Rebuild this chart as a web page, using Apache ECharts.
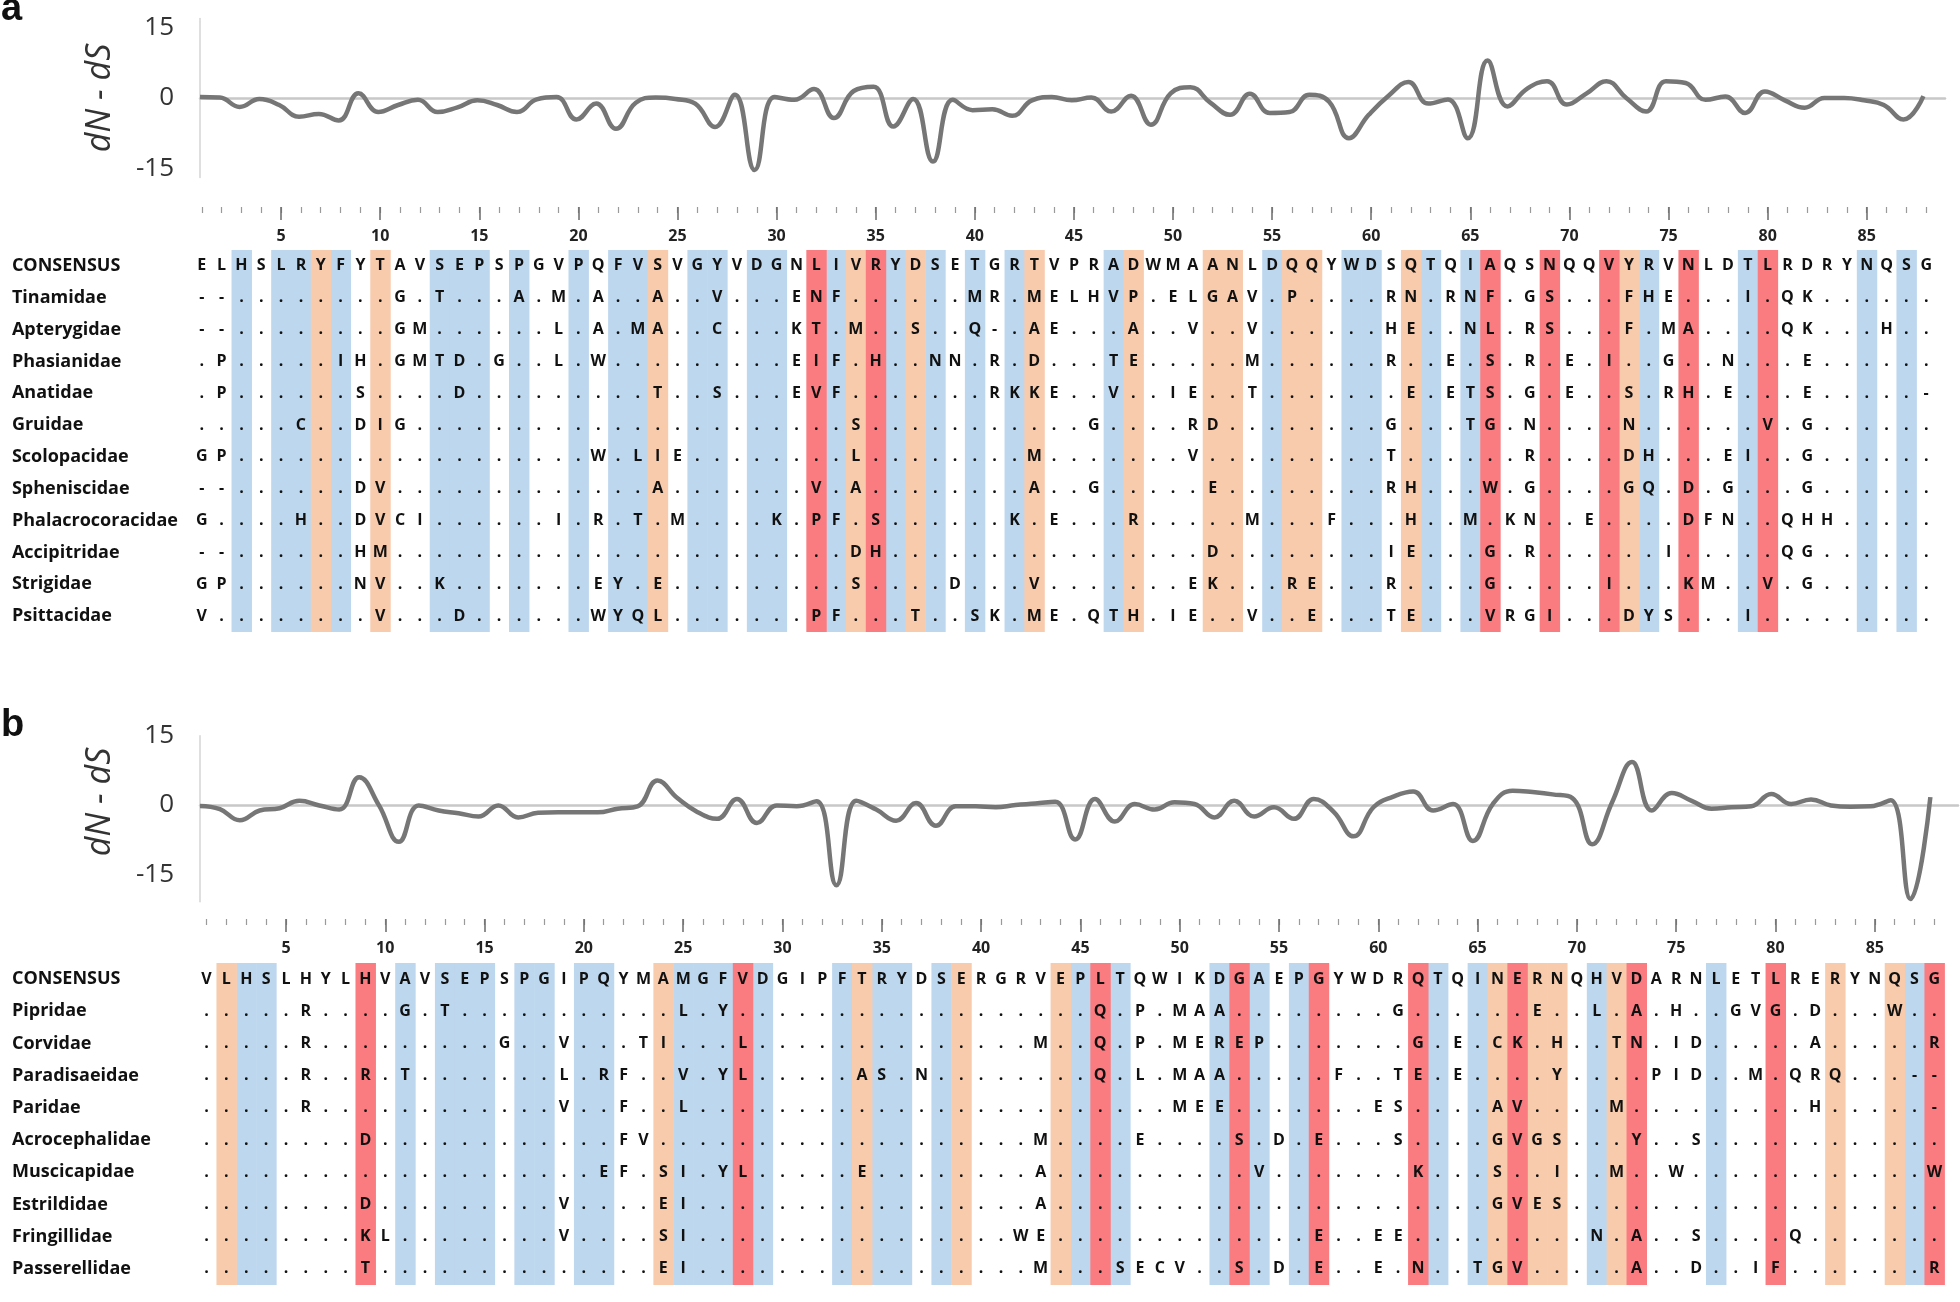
<!DOCTYPE html>
<html><head><meta charset="utf-8">
<script src="https://cdn.jsdelivr.net/npm/echarts@6/dist/echarts.min.js"></script>
<style>html,body{margin:0;padding:0;background:#fff}#c{width:1960px;height:1302px}</style>
</head><body><div id="c"></div>
<script>
// codon positions
const positions = Array.from({length: 88}, (_, i) => i + 1);
const tickLabelStep = 5;

// dN - dS per codon (panel a, non-passerines)
const dndsA = [0.2,0.1,-1.9,-0.2,-1.5,-4.0,-3.4,-4.8,1.0,-3.0,
  -1.5,-0.4,-3.0,-2.0,-0.5,-1.5,-3.0,-0.3,0.2,-4.6,
  -1.2,-6.6,-1.0,0.1,-0.2,-1.2,-6.2,0.7,-15.4,0.2,
  -0.4,1.9,-4.3,1.5,2.4,-6.1,-0.2,-13.6,-0.4,-2.6,
  -2.4,-3.8,-0.5,0.2,-0.5,0.1,-2.9,0.5,-5.7,1.0,
  2.3,-1.0,-3.6,0.9,-3.2,-3.0,0.7,-0.8,-8.6,-3.6,
  0.5,3.4,-1.2,-0.3,-8.6,8.0,-1.8,2.0,3.6,-1.4,
  1.0,3.6,0.0,-2.9,3.6,3.2,-0.4,0.3,-3.2,1.4,
  -0.5,-2.1,0.0,0.0,-0.5,-1.5,-4.6,0.4];

// dN - dS per codon (panel b, passerines)
const dndsB = [-0.2,-0.9,-3.3,-1.2,-0.7,0.9,-0.1,-1.0,6.0,-0.1,
  -8.0,-0.1,-1.2,-1.8,-2.5,-0.1,-2.7,-1.7,-1.6,-1.6,
  -1.6,-0.8,-0.3,5.3,1.5,-1.5,-3.0,1.3,-3.9,-0.1,
  -0.3,0.8,-17.4,0.9,-1.0,-3.4,0.4,-4.5,-0.3,-0.3,
  -0.5,0.0,0.3,0.7,-7.5,1.3,-3.6,0.2,-1.0,0.6,
  0.2,-2.7,0.9,-2.5,-0.5,-3.0,1.3,-1.5,-6.8,-0.5,
  1.8,2.9,-1.2,0.2,-7.8,0.2,3.1,2.8,2.3,1.5,
  -8.5,0.6,9.3,-1.2,2.6,0.9,-0.8,-0.5,-0.3,2.4,
  0.2,1.2,-0.1,-0.4,-0.3,1.0,-20.4,1.7];

const taxaA = ['CONSENSUS','Tinamidae','Apterygidae','Phasianidae','Anatidae','Gruidae',
  'Scolopacidae','Spheniscidae','Phalacrocoracidae','Accipitridae','Strigidae','Psittacidae'];
const seqA = [
  "ELHSLRYFYT AVSEPSPGVP QFVSVGYVDG NLIVRYDSET GRTVPRADWM AANLDQQYWD SQTQIAQSNQ QVYRVNLDTL RDRYNQSG",
  "--........ G.T...A.M. A..A..V... ENF......M R.MELHVP.E LGAV.P.... RN.RNF.GS. ..FHE...I. QK......",
  "--........ GM......L. A.MA..C... KT.M..S..Q -.AE...A.. V..V...... HE..NL.RS. ..F.MA.... QK...H..",
  ".P.....IH. GMTD.G..L. W......... EIF.H..NN. R.D...TE.. ...M...... R..E.S.R.E .I..G..N.. .E......",
  ".P......S. ...D...... ...T..S... EVF....... RKKE..V..I E..T...... .E.ETS.G.E ..S.RH.E.. .E.....-",
  ".....C..DI G......... .......... ...S...... .....G.... RD........ G...TG.N.. ..N......V .G......",
  "GP........ .......... W.LIE..... ...L...... ..M....... V......... T......R.. ..DH...EI. .G......",
  "--......DV .......... ...A...... .V.A...... ..A..G.... .E........ RH...W.G.. ..GQ.D.G.. .G......",
  "G....H..DV CI......I. R.T.M....K .PF.S..... .K.E...R.. ...M...F.. .H..M.KN.. E....DFN.. QHH.....",
  "--......HM .......... .......... ...DH..... .......... .D........ IE...G.R.. ....I..... QG......",
  "GP......NV ..K....... EY.E...... ...S....D. ..V....... EK...RE... R....G.... .I...KM..V .G......",
  "V........V ...D...... WYQL...... .PF...T..S K.ME.QTH.I E..V..E... TE...VRGI. ..DYS...I. ........"
];
const blueA = [3,5,6,8,13,14,15,17,20,22,23,26,27,29,30,33,36,38,40,42,47,55,59,60,63,65,74,79,85,87];
const orangeA = [7,10,24,34,37,43,48,52,53,56,57,62,73];
const redA = [32,35,66,69,72,76,80];

const taxaB = ['CONSENSUS','Pipridae','Corvidae','Paradisaeidae','Paridae','Acrocephalidae',
  'Muscicapidae','Estrildidae','Fringillidae','Passerellidae'];
const seqB = [
  "VLHSLHYLHV AVSEPSPGIP QYMAMGFVDG IPFTRYDSER GRVEPLTQWI KDGAEPGYWD RQTQINERNQ HVDARNLETL RERYNQSG",
  ".....R.... G.T....... ....L.Y... .......... .....Q.P.M AA........ G......E.. L.A.H..GVG .D...W..",
  ".....R.... .....G..V. ..TI...L.. .......... ..M..Q.P.M EREP...... .G.E.CK.H. .TN.ID.... .A.....R",
  ".....R..R. T.......L. RF..V.YL.. ...AS.N... .....Q.L.M AA.....F.. TE.E....Y. ...PID..M. QRQ...--",
  ".....R.... ........V. .F..L..... .......... .........M EE.......E S....AV... .M........ .H.....-",
  "........D. .......... .FV....... .......... ..M....E.. ..S.D.E... S....GVGS. ..Y..S.... ........",
  ".......... .......... EF.SI.YL.. ...E...... ..A....... ...V...... .K...S..I. .M..W..... .......W",
  "........D. ........V. ...EI..... .......... ..A....... .......... .....GVES. .......... ........",
  "........KL ........V. ...SI..... .......... .WE....... ......E..E E......... N.A..S.... Q.......",
  "........T. .......... ...EI..... .......... ..M...SECV ..S.D.E..E .N..TGV... ..A..D..IF .......R"
];
const blueB = [3,4,11,13,14,15,17,18,20,21,25,26,27,29,33,35,36,38,45,47,52,54,56,63,65,71,77,87];
const orangeB = [2,24,34,39,44,66,68,69,72,83,86];
const redB = [9,28,46,53,57,62,67,73,80,88];

const yTickValues = [-15, 0, 15];
const HL = ['#BDD7EE', '#F8CBAD', '#FA7C80'];
const FONT = '"Open Sans", "Liberation Sans", sans-serif';

function buildLetters(seqs) {
  const items = [];
  seqs.forEach((s, r) => {
    const t = s.replace(/ /g, '');
    for (let c = 0; c < t.length; c++) items.push({c: c, r: r, ch: t[c]});
  });
  return items;
}
function buildHL(blue, orange, red) {
  const d = [];
  blue.forEach(c => d.push([c - 1, 0]));
  orange.forEach(c => d.push([c - 1, 1]));
  red.forEach(c => d.push([c - 1, 2]));
  return d;
}
const lettersA = buildLetters(seqA);
const lettersB = buildLetters(seqB);

function letterRender(items) {
  return function (params, api) {
    const it = items[params.dataIndex];
    const p = api.coord([api.value(0), api.value(1)]);
    return {type: 'text', x: p[0], y: p[1],
      style: {text: it.ch, align: 'center', verticalAlign: 'middle',
        font: 'bold 16px ' + FONT, fill: '#111'}};
  };
}
function hlRender(params, api) {
  const p = api.coord([api.value(0), 0]);
  const w = api.size([1, 0])[0];
  const cs = params.coordSys;
  return {type: 'rect', shape: {x: p[0] - w / 2, y: cs.y, width: w + 0.6, height: cs.height},
    style: {fill: HL[api.value(1)]}};
}

const cats = positions.map(String);
const majorFn = (i) => (i + 1) % tickLabelStep === 0;

function lineX(gridIndex, max) {
  return {gridIndex: gridIndex, type: 'value', min: 1, max: max,
    axisLine: {show: true, onZero: true, lineStyle: {color: '#c8c8c8', width: 2.5}},
    axisTick: {show: false}, axisLabel: {show: false}, splitLine: {show: false}};
}
function lineY(gridIndex, min, max) {
  return {gridIndex: gridIndex, type: 'value', min: min, max: max,
    axisLine: {show: true, lineStyle: {color: '#d4d4d4', width: 1.5}},
    axisTick: {show: false}, splitLine: {show: false},
    axisLabel: {customValues: yTickValues, margin: 26, fontFamily: FONT, fontWeight: 'normal',
      fontSize: 26, color: '#333'}};
}
function minorX(gridIndex, offset) {
  return {gridIndex: gridIndex, type: 'category', data: cats, position: 'top', offset: offset,
    axisLine: {show: false},
    axisTick: {show: true, inside: true, length: 6, alignWithLabel: true, interval: 0,
      lineStyle: {color: '#9a9a9a', width: 1.2}},
    axisLabel: {show: false}, splitLine: {show: false}};
}
function majorX(gridIndex, offset) {
  return {gridIndex: gridIndex, type: 'category', data: cats, position: 'top', offset: offset,
    axisLine: {show: false},
    axisTick: {show: true, inside: true, length: 13, alignWithLabel: true, interval: majorFn,
      lineStyle: {color: '#6a6a6a', width: 1.5}},
    axisLabel: {show: true, inside: true, interval: majorFn, margin: 21,
      fontFamily: FONT, fontWeight: 'bold', fontSize: 16, color: '#222'},
    splitLine: {show: false}};
}
function taxaY(gridIndex, names, margin) {
  return {gridIndex: gridIndex, type: 'category', data: names, inverse: true,
    axisLine: {show: false}, axisTick: {show: false}, splitLine: {show: false},
    axisLabel: {align: 'left', margin: margin, fontFamily: FONT, fontWeight: 'bold',
      fontSize: 18, color: '#111'}};
}

const chart = echarts.init(document.getElementById('c'), null, {renderer: 'canvas'});
chart.setOption({
  animation: false,
  backgroundColor: '#fff',
  grid: [
    {left: 200, top: 18.5, width: 1745, height: 159},
    {left: 191.9, top: 250, width: 1744.2, height: 382},
    {left: 200, top: 735.8, width: 1758, height: 166},
    {left: 196.6, top: 963, width: 1747.7, height: 322}
  ],
  xAxis: [
    lineX(0, 89.09),
    minorX(1, 43), majorX(1, 43),
    lineX(2, 89.39),
    minorX(3, 44), majorX(3, 44)
  ],
  yAxis: [
    lineY(0, -17, 17),
    taxaY(1, taxaA, 180),
    lineY(2, -21, 15),
    taxaY(3, taxaB, 184.6)
  ],
  graphic: [
    {type: 'text', x: 1, y: 10, style: {text: 'a', font: 'bold 38px "Liberation Sans", sans-serif',
      fill: '#111', align: 'left', verticalAlign: 'middle'}},
    {type: 'text', x: 1, y: 726, style: {text: 'b', font: 'bold 38px "Liberation Sans", sans-serif',
      fill: '#111', align: 'left', verticalAlign: 'middle'}},
    {type: 'text', x: 100, y: 98, rotation: Math.PI / 2, style: {text: 'dN - dS',
      font: 'italic 34px ' + FONT, fill: '#333', align: 'center', verticalAlign: 'middle'}},
    {type: 'text', x: 100, y: 802, rotation: Math.PI / 2, style: {text: 'dN - dS',
      font: 'italic 34px ' + FONT, fill: '#333', align: 'center', verticalAlign: 'middle'}}
  ],
  series: [
    {type: 'line', xAxisIndex: 0, yAxisIndex: 0, smooth: 0.45, showSymbol: false, symbol: 'none',
      lineStyle: {color: '#767676', width: 4.5}, z: 3,
      data: positions.map((p, i) => [p, dndsA[i]])},
    {type: 'custom', xAxisIndex: 1, yAxisIndex: 1, renderItem: hlRender, z: 1,
      data: buildHL(blueA, orangeA, redA)},
    {type: 'custom', xAxisIndex: 1, yAxisIndex: 1, renderItem: letterRender(lettersA), z: 2,
      data: lettersA.map(t => [t.c, t.r])},
    {type: 'line', xAxisIndex: 3, yAxisIndex: 2, smooth: 0.45, showSymbol: false, symbol: 'none',
      lineStyle: {color: '#767676', width: 4.5}, z: 3,
      data: positions.map((p, i) => [p, dndsB[i]])},
    {type: 'custom', xAxisIndex: 4, yAxisIndex: 3, renderItem: hlRender, z: 1,
      data: buildHL(blueB, orangeB, redB)},
    {type: 'custom', xAxisIndex: 4, yAxisIndex: 3, renderItem: letterRender(lettersB), z: 2,
      data: lettersB.map(t => [t.c, t.r])}
  ]
});
</script>
</body></html>
